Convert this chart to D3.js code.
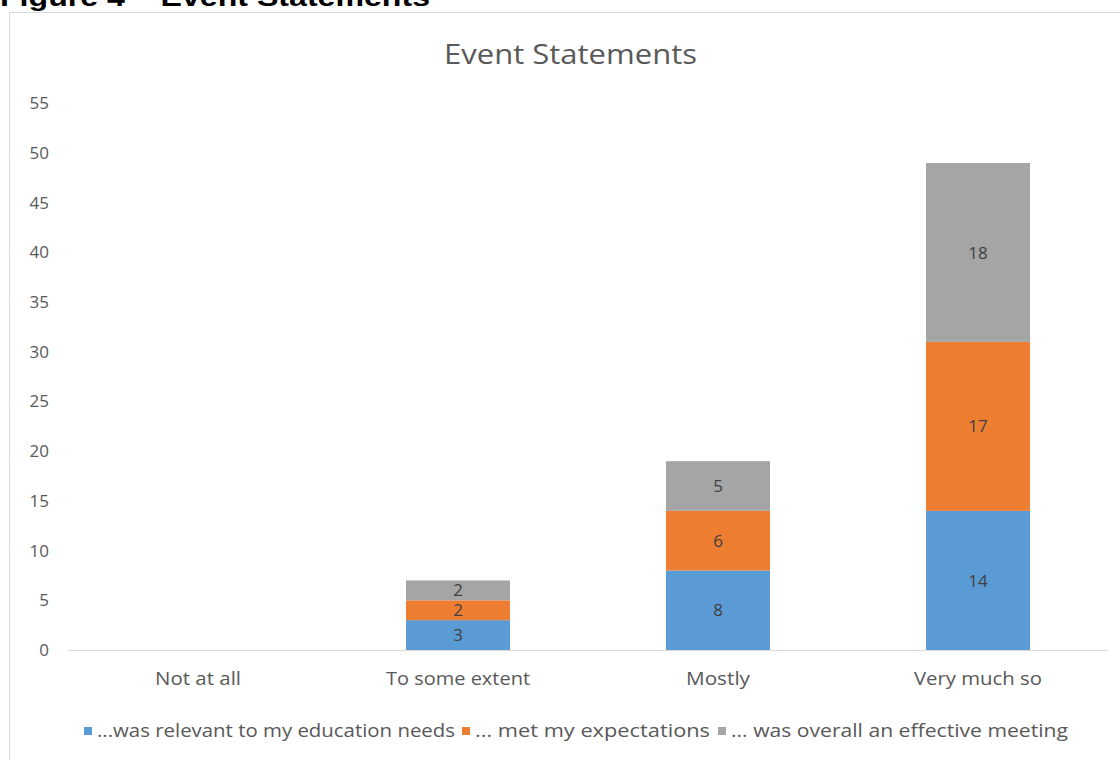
<!DOCTYPE html>
<html>
<head>
<meta charset="utf-8">
<script src="https://cdn.jsdelivr.net/npm/d3@7"></script>
<style>
  html, body { margin: 0; padding: 0; background: #fff; }
  svg { display: block; }
</style>
</head>
<body>
<svg id="chart" width="1120" height="760"></svg>
<script>
// Survey responses to three statements about the event, stacked by answer
const categories = ["Not at all", "To some extent", "Mostly", "Very much so"];
const seriesNames = ["...was relevant to my education needs", "... met my expectations", "... was overall an effective meeting"];
const relevant = [0, 3, 8, 14];
const expectations = [0, 2, 6, 17];
const effective = [0, 2, 5, 18];
const yTicks = [0, 5, 10, 15, 20, 25, 30, 35, 40, 45, 50, 55];
const colors = ["#5b9bd5", "#ed7d31", "#a5a5a5"];

const svg = d3.select("#chart");
const font = "'Open Sans', Lato, sans-serif";

// Figure caption above the chart frame
svg.append("text")
  .attr("x", 0).attr("y", 6)
  .attr("font-family", "Liberation Sans, Arial, sans-serif")
  .attr("font-weight", "bold")
  .attr("font-size", 26)
  .attr("textLength", 430)
  .attr("lengthAdjust", "spacingAndGlyphs")
  .attr("fill", "#000")
  .text("Figure 4 – Event Statements");

// Chart frame
svg.append("rect")
  .attr("x", 9.5).attr("y", 12.5)
  .attr("width", 1120).attr("height", 760)
  .attr("fill", "#fff")
  .attr("stroke", "#d9d9d9");

const x = d3.scaleBand().domain(categories).range([68, 1108]).paddingInner(0.6).paddingOuter(0.3);
const y = d3.scaleLinear().domain([0, 55]).range([650, 103.3]);

// Title
svg.append("text")
  .attr("x", 570.5).attr("y", 64)
  .attr("text-anchor", "middle")
  .attr("font-family", font)
  .attr("font-size", 27)
  .attr("textLength", 253)
  .attr("lengthAdjust", "spacingAndGlyphs")
  .attr("fill", "#595959")
  .text("Event Statements");

// Y axis labels (no line, no ticks)
const yAxis = d3.axisLeft(y).tickValues(yTicks).tickSize(0).tickPadding(0);
const gy = svg.append("g").attr("transform", "translate(49,0)").call(yAxis);
gy.select(".domain").remove();
gy.selectAll("text")
  .attr("font-family", font).attr("font-size", 17).attr("fill", "#595959");

// Stacked bars
const rows = categories.map((c, i) => ({ cat: c, s0: relevant[i], s1: expectations[i], s2: effective[i] }));
const stack = d3.stack().keys(["s0", "s1", "s2"]);
const layers = stack(rows);

const gBars = svg.append("g");
layers.forEach((layer, li) => {
  layer.forEach(d => {
    const v = d[1] - d[0];
    if (v <= 0) return;
    const cat = d.data.cat;
    gBars.append("rect")
      .attr("x", x(cat))
      .attr("y", y(d[1]))
      .attr("width", x.bandwidth())
      .attr("height", y(d[0]) - y(d[1]))
      .attr("fill", colors[li]);
    gBars.append("text")
      .attr("x", x(cat) + x.bandwidth() / 2)
      .attr("y", (y(d[0]) + y(d[1])) / 2)
      .attr("dy", "0.36em")
      .attr("text-anchor", "middle")
      .attr("font-family", font).attr("font-size", 17)
      .attr("fill", "#404040")
      .text(v);
  });
});

// X axis baseline and category labels
const labelWidths = { "Not at all": 86, "To some extent": 144, "Mostly": 64, "Very much so": 128 };
const xAxis = d3.axisBottom(x).tickSize(0).tickPadding(22);
const gx = svg.append("g").attr("transform", "translate(0,650)").call(xAxis);
gx.select(".domain").attr("stroke", "#d9d9d9").attr("d", "M68,0.5H1108");
gx.selectAll("text")
  .attr("font-family", font).attr("font-size", 18).attr("fill", "#595959")
  .attr("textLength", d => labelWidths[d])
  .attr("lengthAdjust", "spacingAndGlyphs");

// Legend
const legendItems = [
  { name: seriesNames[0], x: 84, w: 358 },
  { name: seriesNames[1], x: 462, w: 235 },
  { name: seriesNames[2], x: 718, w: 337 }
];
const gl = svg.append("g");
legendItems.forEach((it, i) => {
  gl.append("rect")
    .attr("x", it.x).attr("y", 727)
    .attr("width", 8).attr("height", 8)
    .attr("fill", colors[i]);
  gl.append("text")
    .attr("x", it.x + 13).attr("y", 737)
    .attr("font-family", font).attr("font-size", 18)
    .attr("textLength", it.w)
    .attr("lengthAdjust", "spacingAndGlyphs")
    .attr("fill", "#595959")
    .text(it.name);
});
</script>
</body>
</html>
